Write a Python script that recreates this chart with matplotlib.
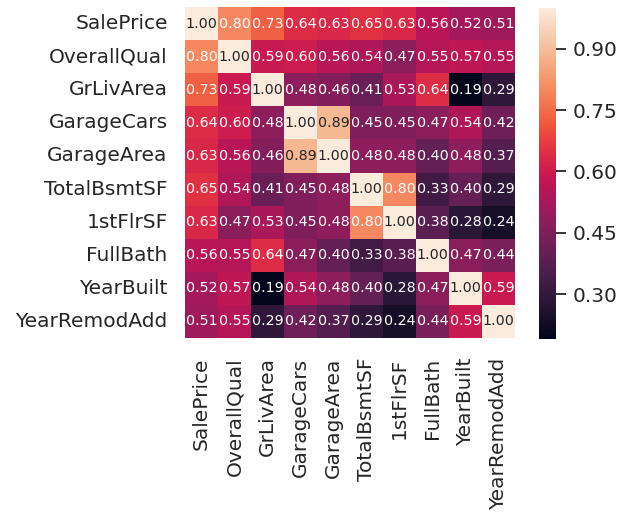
import numpy as np
import pandas as pd
import seaborn as sns
import matplotlib
matplotlib.use('Agg')
import matplotlib.pyplot as plt

cols = ['SalePrice', 'OverallQual', 'GrLivArea', 'GarageCars', 'GarageArea',
        'TotalBsmtSF', '1stFlrSF', 'FullBath', 'YearBuilt', 'YearRemodAdd']

# correlation rows, one per variable
sale_price = [1.00, 0.80, 0.73, 0.64, 0.63, 0.65, 0.63, 0.56, 0.52, 0.51]
overall_qual = [0.80, 1.00, 0.59, 0.60, 0.56, 0.54, 0.47, 0.55, 0.57, 0.55]
gr_liv_area = [0.73, 0.59, 1.00, 0.48, 0.46, 0.41, 0.53, 0.64, 0.19, 0.29]
garage_cars = [0.64, 0.60, 0.48, 1.00, 0.89, 0.45, 0.45, 0.47, 0.54, 0.42]
garage_area = [0.63, 0.56, 0.46, 0.89, 1.00, 0.48, 0.48, 0.40, 0.48, 0.37]
total_bsmt_sf = [0.65, 0.54, 0.41, 0.45, 0.48, 1.00, 0.80, 0.33, 0.40, 0.29]
first_flr_sf = [0.63, 0.47, 0.53, 0.45, 0.48, 0.80, 1.00, 0.38, 0.28, 0.24]
full_bath = [0.56, 0.55, 0.64, 0.47, 0.40, 0.33, 0.38, 1.00, 0.47, 0.44]
year_built = [0.52, 0.57, 0.19, 0.54, 0.48, 0.40, 0.28, 0.47, 1.00, 0.59]
year_remod_add = [0.51, 0.55, 0.29, 0.42, 0.37, 0.29, 0.24, 0.44, 0.59, 1.00]

cbar_ticks = [0.30, 0.45, 0.60, 0.75, 0.90]

cm = pd.DataFrame([sale_price, overall_qual, gr_liv_area, garage_cars, garage_area,
                   total_bsmt_sf, first_flr_sf, full_bath, year_built, year_remod_add],
                  index=cols, columns=cols)

sns.set(font_scale=1.25)
W, H = 617, 515
fig = plt.figure(figsize=(W / 100, H / 100), dpi=100)
ax = fig.add_axes([185 / W, 1 - 338 / H, 330 / W, 331 / H])
cax = fig.add_axes([539 / W, 1 - 339 / H, 17 / W, 331 / H])

sns.heatmap(cm, cbar=True, annot=True, fmt='.2f', annot_kws={'size': 10.3},
            yticklabels=cols, xticklabels=cols, ax=ax, cbar_ax=cax)
ax.set_aspect('auto')
ax.tick_params(axis='y', labelsize=14.5, pad=6.5)
ax.tick_params(axis='x', labelsize=14.5, pad=8)

cax.set_yticks(cbar_ticks)
cax.tick_params(axis='y', right=True, length=7, width=1.3, color='.15',
                labelsize=14.5, pad=5)

fig.savefig('out.png', dpi=100)
